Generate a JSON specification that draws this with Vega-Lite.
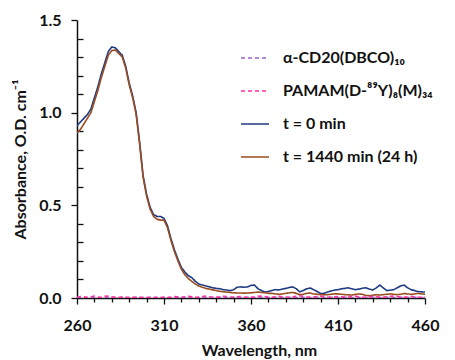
{
  "$schema": "https://vega.github.io/schema/vega-lite/v6.json",
  "width": 348,
  "height": 278,
  "autosize": {"type": "none"},
  "padding": {"left": 77, "top": 20, "right": 30, "bottom": 62},
  "background": "white",
  "config": {
    "view": {"stroke": null},
    "font": "Lato",
    "axis": {
      "domainColor": "#111",
      "domainWidth": 1.5,
      "tickColor": "#111",
      "tickWidth": 1.3,
      "labelFont": "Lato",
      "labelFontWeight": "bold",
      "labelFontSize": 16,
      "labelColor": "#111",
      "titleFont": "Lato",
      "titleFontWeight": "bold",
      "titleFontSize": 16,
      "titleColor": "#111",
      "grid": false
    },
    "legend": {
      "title": null,
      "orient": "none",
      "legendX": 163,
      "legendY": 23,
      "padding": 0,
      "symbolType": "stroke",
      "symbolSize": 784,
      "symbolStrokeWidth": 2,
      "labelOffset": 13,
      "rowPadding": 10,
      "labelFont": "Lato",
      "labelFontWeight": "bold",
      "labelFontSize": 16,
      "labelColor": "#111",
      "labelLimit": 300
    }
  },
  "data": {
    "values": [
      {"w": 260, "t0": 0.93, "t1": 0.89, "cd": 0.003, "pm": 0.004},
      {"w": 262, "t0": 0.95, "t1": 0.91, "cd": 0.004, "pm": 0.008},
      {"w": 264, "t0": 0.97, "t1": 0.94, "cd": 0.003, "pm": 0.006},
      {"w": 266, "t0": 0.99, "t1": 0.97, "cd": 0.002, "pm": 0.003},
      {"w": 268, "t0": 1.02, "t1": 1.0, "cd": 0.003, "pm": 0.007},
      {"w": 270, "t0": 1.08, "t1": 1.06, "cd": 0.004, "pm": 0.01},
      {"w": 272, "t0": 1.14, "t1": 1.12, "cd": 0.003, "pm": 0.005},
      {"w": 274, "t0": 1.21, "t1": 1.19, "cd": 0.002, "pm": 0.004},
      {"w": 276, "t0": 1.27, "t1": 1.25, "cd": 0.003, "pm": 0.009},
      {"w": 278, "t0": 1.33, "t1": 1.31, "cd": 0.004, "pm": 0.011},
      {"w": 280, "t0": 1.355, "t1": 1.335, "cd": 0.003, "pm": 0.006},
      {"w": 282, "t0": 1.35, "t1": 1.338, "cd": 0.002, "pm": 0.004},
      {"w": 284, "t0": 1.33, "t1": 1.32, "cd": 0.003, "pm": 0.003},
      {"w": 286, "t0": 1.31, "t1": 1.3, "cd": 0.004, "pm": 0.005},
      {"w": 288, "t0": 1.25, "t1": 1.24, "cd": 0.003, "pm": 0.004},
      {"w": 290, "t0": 1.16, "t1": 1.15, "cd": 0.002, "pm": 0.003},
      {"w": 292, "t0": 1.09, "t1": 1.08, "cd": 0.003, "pm": 0.004},
      {"w": 294, "t0": 1.0, "t1": 0.99, "cd": 0.004, "pm": 0.003},
      {"w": 296, "t0": 0.84, "t1": 0.83, "cd": 0.003, "pm": 0.004},
      {"w": 298, "t0": 0.66, "t1": 0.65, "cd": 0.002, "pm": 0.003},
      {"w": 300, "t0": 0.56, "t1": 0.55, "cd": 0.003, "pm": 0.003},
      {"w": 302, "t0": 0.49, "t1": 0.48, "cd": 0.004, "pm": 0.002},
      {"w": 304, "t0": 0.45, "t1": 0.44, "cd": 0.003, "pm": 0.003},
      {"w": 306, "t0": 0.44, "t1": 0.425, "cd": 0.002, "pm": 0.004},
      {"w": 308, "t0": 0.44, "t1": 0.42, "cd": 0.003, "pm": 0.003},
      {"w": 310, "t0": 0.43, "t1": 0.42, "cd": 0.004, "pm": 0.004},
      {"w": 312, "t0": 0.39, "t1": 0.38, "cd": 0.003, "pm": 0.003},
      {"w": 314, "t0": 0.32, "t1": 0.31, "cd": 0.002, "pm": 0.005},
      {"w": 316, "t0": 0.26, "t1": 0.25, "cd": 0.003, "pm": 0.008},
      {"w": 318, "t0": 0.21, "t1": 0.2, "cd": 0.004, "pm": 0.006},
      {"w": 320, "t0": 0.165, "t1": 0.155, "cd": 0.003, "pm": 0.004},
      {"w": 322, "t0": 0.14, "t1": 0.125, "cd": 0.002, "pm": 0.007},
      {"w": 324, "t0": 0.12, "t1": 0.105, "cd": 0.003, "pm": 0.009},
      {"w": 326, "t0": 0.11, "t1": 0.09, "cd": 0.004, "pm": 0.006},
      {"w": 328, "t0": 0.09, "t1": 0.075, "cd": 0.003, "pm": 0.004},
      {"w": 330, "t0": 0.075, "t1": 0.065, "cd": 0.002, "pm": 0.005},
      {"w": 332, "t0": 0.07, "t1": 0.058, "cd": 0.003, "pm": 0.008},
      {"w": 334, "t0": 0.065, "t1": 0.052, "cd": 0.004, "pm": 0.01},
      {"w": 336, "t0": 0.06, "t1": 0.048, "cd": 0.003, "pm": 0.007},
      {"w": 338, "t0": 0.055, "t1": 0.044, "cd": 0.002, "pm": 0.005},
      {"w": 340, "t0": 0.052, "t1": 0.04, "cd": 0.003, "pm": 0.004},
      {"w": 342, "t0": 0.05, "t1": 0.036, "cd": 0.004, "pm": 0.006},
      {"w": 344, "t0": 0.045, "t1": 0.034, "cd": 0.003, "pm": 0.009},
      {"w": 346, "t0": 0.043, "t1": 0.032, "cd": 0.002, "pm": 0.008},
      {"w": 348, "t0": 0.04, "t1": 0.03, "cd": 0.003, "pm": 0.005},
      {"w": 350, "t0": 0.045, "t1": 0.028, "cd": 0.004, "pm": 0.004},
      {"w": 352, "t0": 0.058, "t1": 0.027, "cd": 0.003, "pm": 0.006},
      {"w": 354, "t0": 0.06, "t1": 0.027, "cd": 0.002, "pm": 0.008},
      {"w": 356, "t0": 0.058, "t1": 0.026, "cd": 0.003, "pm": 0.005},
      {"w": 358, "t0": 0.06, "t1": 0.027, "cd": 0.004, "pm": 0.003},
      {"w": 360, "t0": 0.068, "t1": 0.028, "cd": 0.003, "pm": 0.004},
      {"w": 362, "t0": 0.07, "t1": 0.03, "cd": 0.002, "pm": 0.006},
      {"w": 364, "t0": 0.05, "t1": 0.032, "cd": 0.003, "pm": 0.009},
      {"w": 366, "t0": 0.04, "t1": 0.03, "cd": 0.004, "pm": 0.011},
      {"w": 368, "t0": 0.032, "t1": 0.028, "cd": 0.003, "pm": 0.008},
      {"w": 370, "t0": 0.035, "t1": 0.025, "cd": 0.002, "pm": 0.005},
      {"w": 372, "t0": 0.04, "t1": 0.025, "cd": 0.003, "pm": 0.004},
      {"w": 374, "t0": 0.045, "t1": 0.022, "cd": 0.004, "pm": 0.006},
      {"w": 376, "t0": 0.043, "t1": 0.02, "cd": 0.003, "pm": 0.009},
      {"w": 378, "t0": 0.048, "t1": 0.022, "cd": 0.002, "pm": 0.007},
      {"w": 380, "t0": 0.052, "t1": 0.025, "cd": 0.003, "pm": 0.005},
      {"w": 382, "t0": 0.057, "t1": 0.028, "cd": 0.004, "pm": 0.004},
      {"w": 384, "t0": 0.06, "t1": 0.03, "cd": 0.003, "pm": 0.006},
      {"w": 386, "t0": 0.05, "t1": 0.025, "cd": 0.002, "pm": 0.009},
      {"w": 388, "t0": 0.033, "t1": 0.018, "cd": 0.003, "pm": 0.012},
      {"w": 390, "t0": 0.04, "t1": 0.02, "cd": 0.004, "pm": 0.009},
      {"w": 392, "t0": 0.05, "t1": 0.025, "cd": 0.003, "pm": 0.006},
      {"w": 394, "t0": 0.054, "t1": 0.027, "cd": 0.002, "pm": 0.004},
      {"w": 396, "t0": 0.045, "t1": 0.022, "cd": 0.003, "pm": 0.005},
      {"w": 398, "t0": 0.035, "t1": 0.02, "cd": 0.004, "pm": 0.008},
      {"w": 400, "t0": 0.024, "t1": 0.018, "cd": 0.003, "pm": 0.01},
      {"w": 402, "t0": 0.025, "t1": 0.017, "cd": 0.002, "pm": 0.007},
      {"w": 404, "t0": 0.032, "t1": 0.018, "cd": 0.003, "pm": 0.005},
      {"w": 406, "t0": 0.038, "t1": 0.02, "cd": 0.004, "pm": 0.004},
      {"w": 408, "t0": 0.043, "t1": 0.022, "cd": 0.003, "pm": 0.006},
      {"w": 410, "t0": 0.045, "t1": 0.022, "cd": 0.002, "pm": 0.008},
      {"w": 412, "t0": 0.05, "t1": 0.02, "cd": 0.003, "pm": 0.006},
      {"w": 414, "t0": 0.052, "t1": 0.018, "cd": 0.004, "pm": 0.004},
      {"w": 416, "t0": 0.055, "t1": 0.017, "cd": 0.003, "pm": 0.005},
      {"w": 418, "t0": 0.05, "t1": 0.016, "cd": 0.002, "pm": 0.008},
      {"w": 420, "t0": 0.045, "t1": 0.02, "cd": 0.003, "pm": 0.01},
      {"w": 422, "t0": 0.048, "t1": 0.022, "cd": 0.004, "pm": 0.007},
      {"w": 424, "t0": 0.053, "t1": 0.02, "cd": 0.003, "pm": 0.005},
      {"w": 426, "t0": 0.055, "t1": 0.014, "cd": 0.002, "pm": 0.004},
      {"w": 428, "t0": 0.048, "t1": 0.012, "cd": 0.003, "pm": 0.006},
      {"w": 430, "t0": 0.043, "t1": 0.015, "cd": 0.004, "pm": 0.009},
      {"w": 432, "t0": 0.055, "t1": 0.018, "cd": 0.003, "pm": 0.007},
      {"w": 434, "t0": 0.07, "t1": 0.016, "cd": 0.002, "pm": 0.005},
      {"w": 436, "t0": 0.055, "t1": 0.018, "cd": 0.003, "pm": 0.004},
      {"w": 438, "t0": 0.04, "t1": 0.02, "cd": 0.004, "pm": 0.006},
      {"w": 440, "t0": 0.042, "t1": 0.022, "cd": 0.003, "pm": 0.009},
      {"w": 442, "t0": 0.045, "t1": 0.02, "cd": 0.002, "pm": 0.011},
      {"w": 444, "t0": 0.055, "t1": 0.018, "cd": 0.003, "pm": 0.008},
      {"w": 446, "t0": 0.065, "t1": 0.02, "cd": 0.004, "pm": 0.005},
      {"w": 448, "t0": 0.07, "t1": 0.024, "cd": 0.003, "pm": 0.004},
      {"w": 450, "t0": 0.055, "t1": 0.022, "cd": 0.002, "pm": 0.006},
      {"w": 452, "t0": 0.045, "t1": 0.02, "cd": 0.003, "pm": 0.009},
      {"w": 454, "t0": 0.04, "t1": 0.022, "cd": 0.004, "pm": 0.007},
      {"w": 456, "t0": 0.035, "t1": 0.025, "cd": 0.003, "pm": 0.005},
      {"w": 458, "t0": 0.033, "t1": 0.022, "cd": 0.002, "pm": 0.004},
      {"w": 460, "t0": 0.032, "t1": 0.02, "cd": 0.003, "pm": 0.006}
    ]
  },
  "transform": [
    {"fold": ["t0", "t1", "cd", "pm"], "as": ["series", "absorbance"]}
  ],
  "mark": {"type": "line", "clip": true},
  "encoding": {
    "x": {
      "field": "w",
      "type": "quantitative",
      "scale": {"domain": [260, 460], "nice": false, "zero": false},
      "axis": {
        "title": "Wavelength, nm",
        "values": [260, 270, 280, 290, 300, 310, 320, 330, 340, 350, 360, 370, 380, 390, 400, 410, 420, 430, 440, 450, 460],
        "labelExpr": "(datum.value - 260) % 50 === 0 ? datum.label : ''",
        "tickSize": {"condition": {"test": "(datum.value - 260) % 50 === 0", "value": 6}, "value": 4},
        "labelPadding": 13,
        "labelFlush": false,
        "titleX": 182,
        "titleY": 57,
        "titleBaseline": "alphabetic",
        "titleAlign": "center"
      }
    },
    "y": {
      "field": "absorbance",
      "type": "quantitative",
      "scale": {"domain": [0, 1.5], "nice": false},
      "axis": {
        "title": "Absorbance, O.D. cm⁻¹",
        "values": [0, 0.1, 0.2, 0.3, 0.4, 0.5, 0.6, 0.7, 0.8, 0.9, 1.0, 1.1, 1.2, 1.3, 1.4, 1.5],
        "format": ".1f",
        "labelExpr": "abs(datum.value * 2 - round(datum.value * 2)) < 1e-6 ? datum.label : ''",
        "tickSize": {"condition": {"test": "abs(datum.value * 2 - round(datum.value * 2)) < 1e-6", "value": 6}, "value": -6},
        "labelPadding": 10,
        "titleX": -52,
        "titleY": 139,
        "titleAngle": -90,
        "titleAlign": "center",
        "titleBaseline": "alphabetic"
      }
    },
    "color": {
      "field": "series",
      "type": "nominal",
      "scale": {
        "domain": ["cd", "pm", "t0", "t1"],
        "range": ["#9a62cf", "#ff2f9e", "#1f3b82", "#9a4d22"]
      },
      "legend": {
        "labelExpr": "datum.value === 'cd' ? 'α-CD20(DBCO)₁₀' : datum.value === 'pm' ? 'PAMAM(D-⁸⁹Y)₈(M)₃₄' : datum.value === 't0' ? 't = 0 min' : 't = 1440 min (24 h)'"
      }
    },
    "strokeDash": {
      "field": "series",
      "type": "nominal",
      "scale": {
        "domain": ["cd", "pm", "t0", "t1"],
        "range": [[4, 3], [4, 3], [1, 0], [1, 0]]
      },
      "legend": {
        "labelExpr": "datum.value === 'cd' ? 'α-CD20(DBCO)₁₀' : datum.value === 'pm' ? 'PAMAM(D-⁸⁹Y)₈(M)₃₄' : datum.value === 't0' ? 't = 0 min' : 't = 1440 min (24 h)'"
      }
    },
    "strokeWidth": {
      "field": "series",
      "type": "nominal",
      "scale": {"domain": ["cd", "pm", "t0", "t1"], "range": [1.6, 1.6, 2, 2.2]},
      "legend": null
    }
  }
}
